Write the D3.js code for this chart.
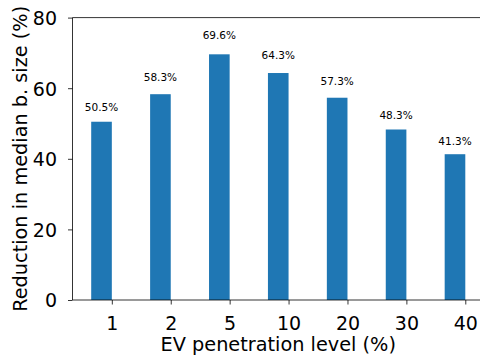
<!DOCTYPE html>
<html>
<head>
<meta charset="utf-8">
<script src="https://cdn.jsdelivr.net/npm/d3@7"></script>
<style>
  html, body { margin: 0; padding: 0; background: #fff; }
  svg { display: block; font-family: "DejaVu Sans", sans-serif; }
</style>
</head>
<body>
<svg id="chart" width="480" height="360"></svg>
<script>
const categories = ["1", "2", "5", "10", "20", "30", "40"];
const values = [50.5, 58.3, 69.6, 64.3, 57.3, 48.3, 41.3];
const valueLabels = ["50.5%", "58.3%", "69.6%", "64.3%", "57.3%", "48.3%", "41.3%"];
const yTicks = [0, 20, 40, 60, 80];

const svg = d3.select("#chart");
const mLeft = 72.5, mRight = 484, mTop = 17.6, mBottom = 300;
const barW = 0.35;

const x = d3.scaleLinear().domain([-0.6675, 6.3175]).range([mLeft, mRight]);
const y = d3.scaleLinear().domain([0, 80]).range([mBottom, mTop]);

// bars
svg.append("g").selectAll("rect")
  .data(values)
  .join("rect")
  .attr("x", (d, i) => x(i - barW))
  .attr("width", (d, i) => x(i) - x(i - barW))
  .attr("y", d => y(d))
  .attr("height", d => y(0) - y(d))
  .attr("fill", "#1f77b4");

// value labels
svg.append("g").selectAll("text")
  .data(values)
  .join("text")
  .attr("x", (d, i) => x(i - barW / 2))
  .attr("y", d => y(d * 1.06) - 0.5)
  .attr("text-anchor", "middle")
  .attr("font-size", "10.5px")
  .attr("fill", "#000")
  .text((d, i) => valueLabels[i]);

// x axis
const xAxis = svg.append("g")
  .attr("transform", `translate(0,${mBottom})`)
  .call(d3.axisBottom(x)
    .tickValues(d3.range(categories.length))
    .tickFormat(i => categories[i])
    .tickSize(4.5)
    .tickSizeOuter(0));
xAxis.select(".domain").remove();
xAxis.selectAll(".tick line").attr("stroke", "#000").attr("stroke-width", 0.8);
xAxis.selectAll(".tick text")
  .attr("y", 29.5).attr("dy", null)
  .attr("font-size", "19px").attr("fill", "#000")
  .attr("font-family", "DejaVu Sans, sans-serif");

// y axis
const yAxis = svg.append("g")
  .attr("transform", `translate(${mLeft},0)`)
  .call(d3.axisLeft(y)
    .tickValues(yTicks)
    .tickSize(4.5)
    .tickSizeOuter(0));
yAxis.select(".domain").remove();
yAxis.selectAll(".tick line").attr("stroke", "#000").attr("stroke-width", 0.8);
yAxis.selectAll(".tick text")
  .attr("x", -15.5).attr("dy", "0.3645em")
  .attr("font-size", "19px").attr("fill", "#000")
  .attr("font-family", "DejaVu Sans, sans-serif");

// spines
const sp = svg.append("g").attr("stroke", "#000").attr("stroke-width", 0.8).attr("fill", "none");
sp.append("line").attr("x1", mLeft).attr("x2", mLeft).attr("y1", mTop).attr("y2", mBottom);
sp.append("line").attr("x1", mLeft).attr("x2", mRight).attr("y1", mBottom).attr("y2", mBottom);
sp.append("line").attr("x1", mLeft).attr("x2", mRight).attr("y1", mTop).attr("y2", mTop);
sp.append("line").attr("x1", mRight).attr("x2", mRight).attr("y1", mTop).attr("y2", mBottom);

// axis labels
svg.append("text")
  .attr("x", (mLeft + mRight) / 2)
  .attr("y", 351)
  .attr("text-anchor", "middle")
  .attr("font-size", "19.3px")
  .attr("fill", "#000")
  .text("EV penetration level (%)");

svg.append("text")
  .attr("transform", `translate(26.5,${(mTop + mBottom) / 2}) rotate(-90)`)
  .attr("text-anchor", "middle")
  .attr("font-size", "19.3px")
  .attr("fill", "#000")
  .text("Reduction in median b. size (%)");
</script>
</body>
</html>
